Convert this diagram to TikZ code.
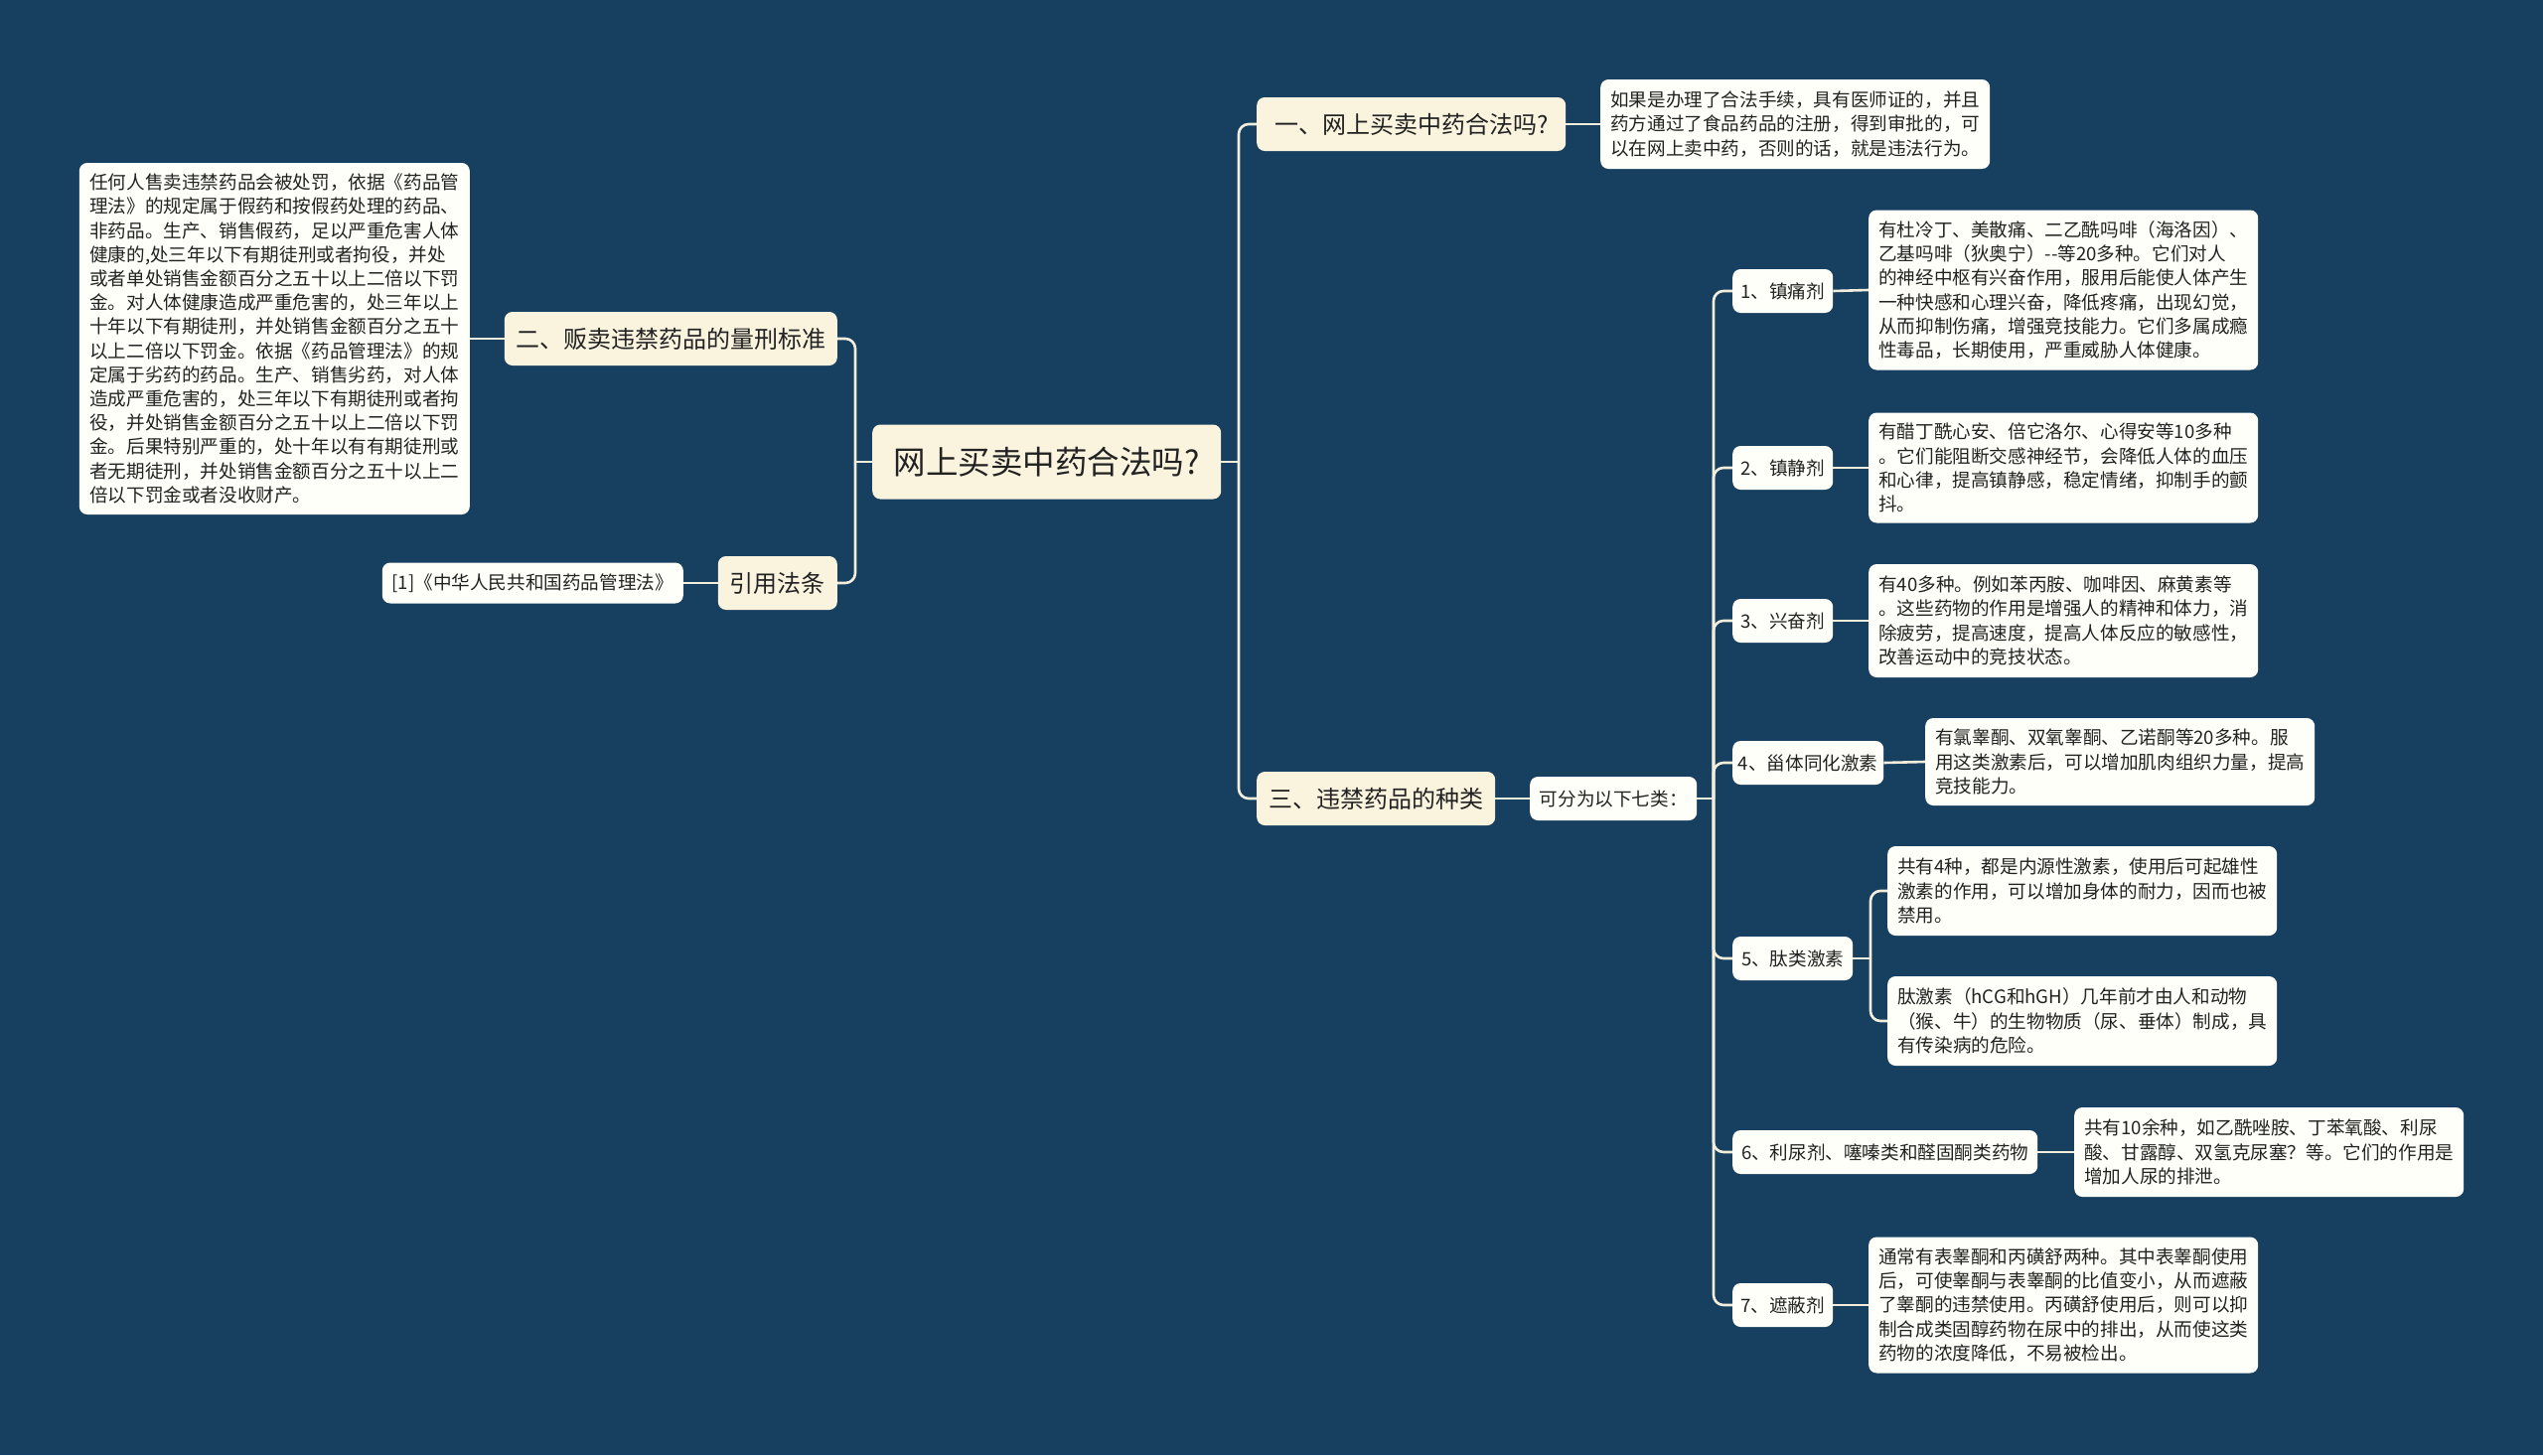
\documentclass[tikz,border=0pt]{standalone}
\usepackage{fontspec}
\setmainfont{Noto Sans CJK SC}
\definecolor{bg}{HTML}{173F5F}
\definecolor{cream}{HTML}{FAF4DF}
\definecolor{leafc}{HTML}{FFFFF9}
\definecolor{txt}{HTML}{222222}
\definecolor{linec}{HTML}{F3EEDB}
\begin{document}
\begin{tikzpicture}[x=1pt,y=-1pt,
  base/.style={rounded corners=8pt, inner sep=0pt, text=txt, anchor=west},
  central/.style={base, fill=cream, minimum height=75pt, font=\fontsize{32.5}{38}\selectfont},
  branch/.style={base, fill=cream, minimum height=54pt, font=\fontsize{24}{28}\selectfont},
  tag/.style={base, fill=leafc, minimum height=44pt, font=\fontsize{18.6}{22}\selectfont},
  leaf/.style={base, fill=leafc, align=left, text width=372pt, minimum width=392pt, font=\fontsize{18.6}{24.2}\selectfont},
  conn/.style={draw=linec, line width=2.6pt, rounded corners=10pt}
]
\fill[bg] (0,0) rectangle (2560,1465);
\useasboundingbox (0,0) rectangle (2560,1465);

% central
\node[central, minimum width=351pt] (c) at (878,465) {网上买卖中药合法吗?};

% right branch 1
\node[branch, minimum width=311pt] (b1) at (1265,125) {一、网上买卖中药合法吗?};
\node[leaf, minimum height=90pt] (l1) at (1611,125) {如果是办理了合法手续，具有医师证的，并且\\药方通过了食品药品的注册，得到审批的，可\\以在网上卖中药，否则的话，就是违法行为。};

% left branches
\node[branch, minimum width=335pt, anchor=east] (b2) at (843,341) {二、贩卖违禁药品的量刑标准};
\node[leaf, minimum height=354pt, minimum width=393pt, anchor=east] (l2) at (473,341) {任何人售卖违禁药品会被处罚，依据《药品管\\理法》的规定属于假药和按假药处理的药品、\\非药品。生产、销售假药，足以严重危害人体\\健康的,处三年以下有期徒刑或者拘役，并处\\或者单处销售金额百分之五十以上二倍以下罚\\金。对人体健康造成严重危害的，处三年以上\\十年以下有期徒刑，并处销售金额百分之五十\\以上二倍以下罚金。依据《药品管理法》的规\\定属于劣药的药品。生产、销售劣药，对人体\\造成严重危害的，处三年以下有期徒刑或者拘\\役，并处销售金额百分之五十以上二倍以下罚\\金。后果特别严重的，处十年以有有期徒刑或\\者无期徒刑，并处销售金额百分之五十以上二\\倍以下罚金或者没收财产。};
\node[branch, minimum width=120pt, anchor=east] (b4) at (843,587) {引用法条};
\node[tag, minimum width=303pt, minimum height=41pt, anchor=east] (ref) at (688,587) {[1]《中华人民共和国药品管理法》};

% right branch 3
\node[branch, minimum width=240pt] (b3) at (1265,804) {三、违禁药品的种类};
\node[tag, minimum width=168pt] (k) at (1540,804) {可分为以下七类：};

\node[tag, minimum width=101pt] (i1) at (1744,293) {1、镇痛剂};
\node[leaf, minimum height=161pt] (d1) at (1881,292) {有杜冷丁、美散痛、二乙酰吗啡（海洛因）、\\乙基吗啡（狄奥宁）-{}-等20多种。它们对人\\的神经中枢有兴奋作用，服用后能使人体产生\\一种快感和心理兴奋，降低疼痛，出现幻觉，\\从而抑制伤痛，增强竞技能力。它们多属成瘾\\性毒品，长期使用，严重威胁人体健康。};

\node[tag, minimum width=101pt] (i2) at (1744,471) {2、镇静剂};
\node[leaf, minimum height=111pt] (d2) at (1881,471) {有醋丁酰心安、倍它洛尔、心得安等10多种\\。它们能阻断交感神经节，会降低人体的血压\\和心律，提高镇静感，稳定情绪，抑制手的颤\\抖。};

\node[tag, minimum width=101pt] (i3) at (1744,625) {3、兴奋剂};
\node[leaf, minimum height=114pt] (d3) at (1881,625) {有40多种。例如苯丙胺、咖啡因、麻黄素等\\。这些药物的作用是增强人的精神和体力，消\\除疲劳，提高速度，提高人体反应的敏感性，\\改善运动中的竞技状态。};

\node[tag, minimum width=152pt] (i4) at (1744,768) {4、甾体同化激素};
\node[leaf, minimum height=88pt] (d4) at (1938,767) {有氯睾酮、双氧睾酮、乙诺酮等20多种。服\\用这类激素后，可以增加肌肉组织力量，提高\\竞技能力。};

\node[tag, minimum width=121pt] (i5) at (1744,965) {5、肽类激素};
\node[leaf, minimum height=90pt] (d5a) at (1900,897) {共有4种，都是内源性激素，使用后可起雄性\\激素的作用，可以增加身体的耐力，因而也被\\禁用。};
\node[leaf, minimum height=90pt] (d5b) at (1900,1028) {肽激素（hCG和hGH）几年前才由人和动物\\（猴、牛）的生物物质（尿、垂体）制成，具\\有传染病的危险。};

\node[tag, minimum width=307pt] (i6) at (1744,1160) {6、利尿剂、噻嗪类和醛固酮类药物};
\node[leaf, minimum height=90pt] (d6) at (2088,1160) {共有10余种，如乙酰唑胺、丁苯氧酸、利尿\\酸、甘露醇、双氢克尿塞？等。它们的作用是\\增加人尿的排泄。};

\node[tag, minimum width=101pt] (i7) at (1744,1314) {7、遮蔽剂};
\node[leaf, minimum height=137pt] (d7) at (1881,1314) {通常有表睾酮和丙磺舒两种。其中表睾酮使用\\后，可使睾酮与表睾酮的比值变小，从而遮蔽\\了睾酮的违禁使用。丙磺舒使用后，则可以抑\\制合成类固醇药物在尿中的排出，从而使这类\\药物的浓度降低，不易被检出。};

% spine coordinates
\coordinate (sL) at (861,465);
\coordinate (sR) at (1247,465);
\coordinate (sK) at (1725,804);
\coordinate (s5) at (1883,965);

% connectors
\draw[conn] (c.west) -- (sL);
\draw[conn] (sL) |- (b2.east);
\draw[conn] (sL) |- (b4.east);
\draw[conn] (b2.west) -- (l2.east);
\draw[conn] (b4.west) -- (ref.east);

\draw[conn] (c.east) -- (sR);
\draw[conn] (sR) |- (b1.west);
\draw[conn] (sR) |- (b3.west);
\draw[conn] (b1.east) -- (l1.west);
\draw[conn] (b3.east) -- (k.west);

\draw[conn] (k.east) -- (sK);
\foreach \n in {i1,i2,i3,i4,i5,i6,i7} {\draw[conn] (sK) |- (\n.west);}
\draw[conn] (i1.east) -- (d1.west);
\draw[conn] (i2.east) -- (d2.west);
\draw[conn] (i3.east) -- (d3.west);
\draw[conn] (i4.east) -- (d4.west);
\draw[conn] (i6.east) -- (d6.west);
\draw[conn] (i7.east) -- (d7.west);
\draw[conn] (i5.east) -- (s5);
\draw[conn] (s5) |- (d5a.west);
\draw[conn] (s5) |- (d5b.west);
\end{tikzpicture}
\end{document}
